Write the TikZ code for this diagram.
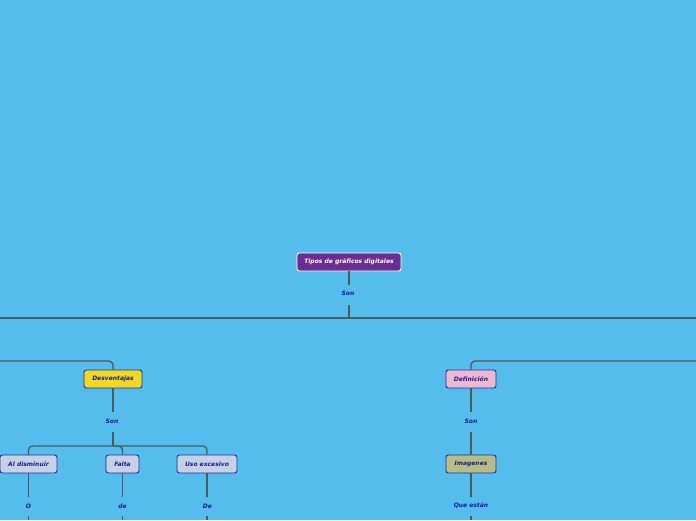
\documentclass[tikz,border=0pt]{standalone}
\usepackage{fontspec}
\setmainfont{DejaVu Sans}
\begin{document}
\begin{tikzpicture}[x=1pt,y=-1pt,
  bg/.style={fill=bgc},
  box/.style={draw=bordc,line width=0.9pt,rounded corners=2.5pt,minimum height=18pt,inner sep=0pt,
    font=\fontsize{6}{6.5}\selectfont\bfseries\itshape,text=txtc},
  lab/.style={font=\fontsize{6}{6.5}\selectfont\bfseries\itshape,text=txtc,inner sep=0pt},
  conn/.style={draw=linec,line width=1.3pt},
  rc/.style={conn,rounded corners=4pt}]
\definecolor{bgc}{HTML}{55BDEB}
\definecolor{bordc}{HTML}{1E2DA8}
\definecolor{txtc}{HTML}{1A1A9E}
\definecolor{linec}{HTML}{4E5A62}
\definecolor{purp}{HTML}{6B2D8F}
\definecolor{yel}{HTML}{F2D81E}
\definecolor{gray1}{HTML}{C6D2E4}
\definecolor{pink1}{HTML}{EEB8CE}
\definecolor{olive1}{HTML}{B8BE82}
\useasboundingbox[bg] (0,0) rectangle (696,520);
% top
\node[box,draw=white,fill=purp,text=white,minimum width=104pt] (root) at (349,262) {Tipos de gráficos digitales};
\node[lab] (son0) at (348,293) {Son};
\coordinate (hub) at (349,318);
\coordinate (hl) at (0,318);
\coordinate (hr) at (696,318);
\draw[conn] (root.south) -- (349,285);
\draw[conn] (349,305) -- (hub);
\draw[conn] (hl) -- (hr);
% left branch
\node[box,fill=yel,minimum width=58pt] (desv) at (113,379) {Desventajas};
\coordinate (lin) at (0,361);
\draw[rc] (lin) -- (113,361) -- (desv.north);
\node[lab] (son1) at (112,421) {Son};
\draw[conn] (desv.south) -- (113,412);
\draw[conn] (113,432) -- (113,446);
\node[box,fill=gray1,minimum width=57pt] (dis) at (28.5,464) {Al disminuir};
\node[box,fill=gray1,minimum width=33pt] (fal) at (122.5,464) {Falta};
\node[box,fill=gray1,minimum width=60pt] (uso) at (207,464) {Uso excesivo};
\draw[rc] (dis.north) -- (28.5,446) -- (207,446) -- (uso.north);
\draw[rc] (113,446) -- (122.5,446) -- (fal.north);
\node[lab] (o) at (28.5,506) {O};
\node[lab] (de1) at (122.5,506) {de};
\node[lab] (de2) at (207.5,506) {De};
\draw[conn] (dis.south) -- (28.5,497);
\draw[conn] (fal.south) -- (122.5,497);
\draw[conn] (uso.south) -- (207,497);
\coordinate (e1) at (28.5,520);
\coordinate (e2) at (122.5,520);
\coordinate (e3) at (207,520);
\draw[conn] (28.5,516) -- (e1);
\draw[conn] (122.5,516) -- (e2);
\draw[conn] (207,516) -- (e3);
% right branch
\node[box,fill=pink1,minimum width=50pt] (def) at (471,379) {Definición};
\coordinate (rin) at (696,361);
\draw[rc] (rin) -- (471,361) -- (def.north);
\node[lab] (son2) at (471,421) {Son};
\draw[conn] (def.south) -- (471,412);
\node[box,fill=olive1,minimum width=50pt] (img) at (471,464) {Imagenes};
\draw[conn] (471,432) -- (img.north);
\node[lab] (que) at (471,506) {Que están};
\draw[conn] (img.south) -- (471,497);
\coordinate (e4) at (471,520);
\draw[conn] (471,516) -- (e4);
\end{tikzpicture}
\end{document}
